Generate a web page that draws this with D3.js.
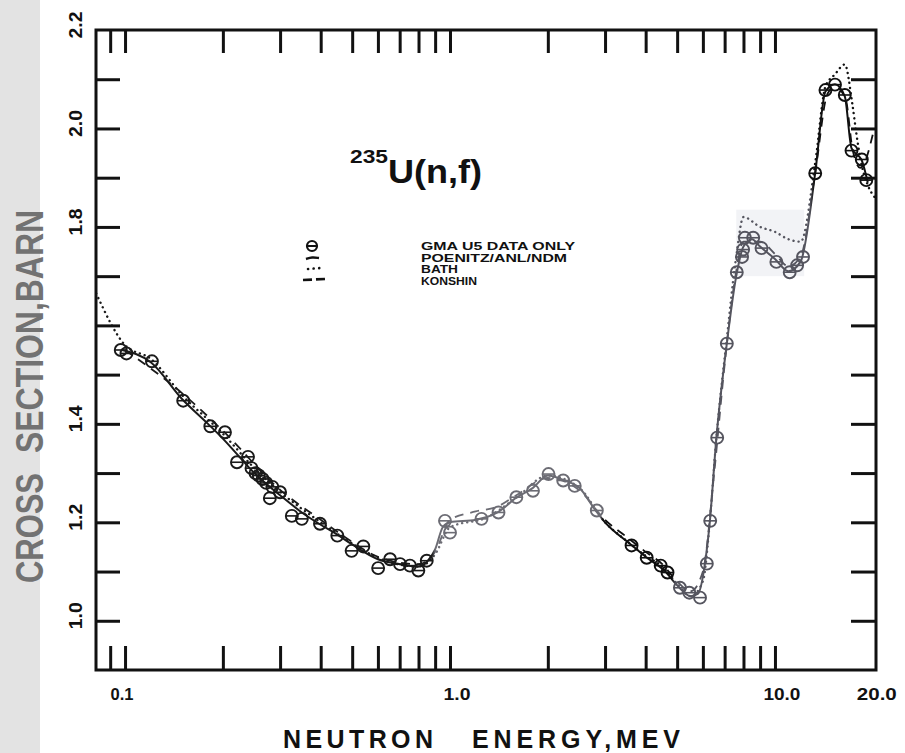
<!DOCTYPE html>
<html><head><meta charset="utf-8">
<script src="https://cdn.jsdelivr.net/npm/d3@7"></script>
<style>
html,body{margin:0;padding:0;background:#fff;}
svg{display:block;}
text{font-family:"Liberation Sans",Arial,sans-serif;font-weight:bold;}
</style></head>
<body>
<svg id="chart" width="905" height="753"></svg>
<script>
// ---------- data ----------
const xTickValues = [0.09,0.1,0.2,0.3,0.4,0.5,0.6,0.7,0.8,0.9,1,2,3,4,5,6,7,8,9,10];
const yTickValues = [1.0,1.1,1.2,1.3,1.4,1.5,1.6,1.7,1.8,1.9,2.0,2.1];
const xTickLabels = ["0.1","1.0","10.0","20.0"];
const xTickLabelValues = [0.1,1,10,20];
const yTickLabels = ["1.0","1.2","1.4","1.8","2.0","2.2"];
const yTickLabelValues = [1.0,1.2,1.4,1.8,2.0,2.2];

// GMA U5 data points
const gmaE = [0.097,0.101,0.121,0.151,0.183,0.203,0.221,0.239,0.245,0.252,0.258,0.265,0.272,0.279,0.284,0.300,0.326,0.350,0.398,0.450,0.498,0.541,0.601,0.654,0.702,0.753,0.799,0.848,
  0.965,1.0,1.25,1.41,1.60,1.80,2.01,2.23,2.42,2.83,
  3.62,4.03,4.45,4.67,
  5.10,5.45,5.88,6.17,6.32,6.64,7.11,7.63,7.92,7.98,8.08,8.57,9.09,10.1,11.1,11.7,12.2,13.3,
  14.3,15.3,16.4,17.2,18.5,19.1];
const gmaS = [1.550,1.543,1.527,1.447,1.395,1.383,1.322,1.333,1.310,1.300,1.295,1.288,1.280,1.249,1.272,1.261,1.213,1.207,1.197,1.173,1.142,1.151,1.107,1.125,1.115,1.112,1.102,1.122,
  1.203,1.179,1.207,1.220,1.251,1.264,1.298,1.285,1.274,1.224,
  1.153,1.128,1.112,1.098,
  1.067,1.057,1.047,1.116,1.203,1.372,1.563,1.708,1.739,1.754,1.778,1.778,1.757,1.729,1.708,1.722,1.739,1.909,
  2.078,2.089,2.068,1.955,1.937,1.895];

// POENITZ/ANL/NDM (solid)
const poenitzE = [0.098,0.12,0.15,0.18,0.2,0.22,0.25,0.3,0.35,0.4,0.45,0.5,0.6,0.7,0.8,0.85,0.9,0.95,1.0,1.2,1.4,1.6,1.8,2.0,2.25,2.5,2.8,3.0,3.6,4.0,4.6,5.0,5.5,5.8,6.1,6.3,6.6,7.1,7.6,8.0,8.5,9.0,10,11,12,13.3,14.3,15.3,16.4,17.2,18.5,19.3];
const poenitzS = [1.55,1.525,1.45,1.40,1.37,1.34,1.30,1.255,1.22,1.195,1.175,1.155,1.125,1.115,1.11,1.12,1.145,1.19,1.20,1.205,1.22,1.25,1.27,1.295,1.285,1.27,1.225,1.20,1.155,1.13,1.10,1.072,1.05,1.055,1.12,1.20,1.37,1.56,1.70,1.76,1.775,1.76,1.735,1.71,1.73,1.91,2.075,2.09,2.065,1.96,1.935,1.89];

// BATH (dotted)
const bathE = [0.0815,0.1,0.12,0.15,0.2,0.25,0.3,0.4,0.5,0.6,0.8,0.9,1.0,1.3,1.6,2.0,2.5,3.0,3.5,4.0,4.5,5.0,5.5,6.0,6.3,6.6,7.1,7.6,8.0,9.0,10,11,12,13.3,14.3,15.3,16.4,17.3,17.8,18.3,19.3,20.3];
const bathS = [1.665,1.56,1.532,1.458,1.38,1.31,1.262,1.20,1.157,1.128,1.11,1.135,1.19,1.21,1.25,1.295,1.27,1.20,1.162,1.132,1.11,1.075,1.05,1.08,1.20,1.37,1.57,1.74,1.82,1.80,1.79,1.775,1.77,1.93,2.085,2.11,2.13,2.05,1.99,1.94,1.885,1.86];

// KONSHIN (dashed)
const konshinE = [0.1,0.15,0.2,0.3,0.4,0.5,0.6,0.8,0.9,1.0,1.2,1.4,1.6,2.0,2.5,3.0,3.5,4.0,4.5,5.0,5.5,6.0,6.5,7.0,7.6,8.0,9.0,10,11,12,13.3,14.5,15.3,16.5,17.3,18.3,20.2];
const konshinS = [1.55,1.462,1.386,1.266,1.205,1.16,1.13,1.115,1.14,1.205,1.222,1.232,1.255,1.29,1.265,1.205,1.17,1.14,1.115,1.08,1.06,1.10,1.30,1.52,1.71,1.77,1.77,1.745,1.72,1.74,1.91,2.07,2.085,2.06,1.96,1.92,2.0];

// faint shaded region seen in the scan (energy / cross-section extents)
const shadeE = [7.6, 12.3];
const shadeS = [1.70, 1.835];

const legendLabels = ["GMA U5 DATA ONLY","POENITZ/ANL/NDM","BATH","KONSHIN"];

// ---------- layout ----------
const W = 905, H = 753;
const frame = {left:96, right:876, top:30, bottom:670};
const svg = d3.select("#chart");

const x = d3.scaleLog().domain([0.0814, 20.46]).range([frame.left, frame.right]);
const y = d3.scaleLinear().domain([0.9, 2.2]).range([frame.bottom, frame.top]);

// scan-like grey band on the far left
svg.append("rect").attr("x",0).attr("y",0).attr("width",40).attr("height",H).attr("fill","#e3e3e3");

// colour along energy (the scan has grey / black stretches)
const defs = svg.append("defs");
const grad = defs.append("linearGradient").attr("id","ink").attr("gradientUnits","userSpaceOnUse")
  .attr("x1",frame.left).attr("x2",frame.right).attr("y1",0).attr("y2",0);
const inkStops = [[0.0814,"#1a1a1a"],[0.88,"#1a1a1a"],[0.90,"#6c6c74"],[2.9,"#6c6c74"],[2.95,"#0e0e0e"],[4.8,"#0e0e0e"],[4.95,"#55555f"],[12.8,"#55555f"],[13.2,"#111"],[20.46,"#111"]];
inkStops.forEach(s=>{
  grad.append("stop").attr("offset",((x(s[0])-frame.left)/(frame.right-frame.left))).attr("stop-color",s[1]);
});

defs.append("clipPath").attr("id","clip").append("rect")
  .attr("x",frame.left).attr("y",frame.top).attr("width",frame.right-frame.left).attr("height",frame.bottom-frame.top);

// shaded region
svg.append("rect")
  .attr("x",x(shadeE[0])).attr("width",x(shadeE[1])-x(shadeE[0]))
  .attr("y",y(shadeS[1])).attr("height",y(shadeS[0])-y(shadeS[1]))
  .attr("fill","#f2f3f6");

// ---------- curves ----------
const plot = svg.append("g").attr("clip-path","url(#clip)");
const lineGen = d3.line().x(d=>x(d[0])).y(d=>y(d[1])).curve(d3.curveMonotoneX);
const zip = (a,b)=>a.map((v,i)=>[v,b[i]]);

plot.append("path").datum(zip(konshinE,konshinS)).attr("d",lineGen)
  .attr("fill","none").attr("stroke","url(#ink)").attr("stroke-width",1.8).attr("stroke-dasharray","9,7");
plot.append("path").datum(zip(bathE,bathS)).attr("d",lineGen)
  .attr("fill","none").attr("stroke","url(#ink)").attr("stroke-width",2.4)
  .attr("stroke-linecap","round").attr("stroke-dasharray","0.1,5");
plot.append("path").datum(zip(poenitzE,poenitzS)).attr("d",lineGen)
  .attr("fill","none").attr("stroke","url(#ink)").attr("stroke-width",2);

// ---------- data points (Θ) ----------
function inkAt(e){
  let c = inkStops[0][1];
  for(const s of inkStops){ if(e>=s[0]) c=s[1]; }
  return c;
}
const r = 6;
const pts = plot.selectAll("g.pt").data(zip(gmaE,gmaS)).join("g").attr("class","pt")
  .attr("transform",d=>`translate(${x(d[0])},${y(d[1])})`);
pts.append("circle").attr("r",r).attr("fill","none").attr("stroke",d=>inkAt(d[0])).attr("stroke-width",1.9);
pts.append("line").attr("x1",-r).attr("x2",r).attr("y1",0).attr("y2",0).attr("stroke",d=>inkAt(d[0])).attr("stroke-width",1.6);

// ---------- axes (ticks inside the frame) ----------
const tickStyle = g=>{
  g.select(".domain").remove();
  g.selectAll(".tick line").attr("stroke","#111").attr("stroke-width",3);
  g.selectAll(".tick text").remove();
};
svg.append("g").attr("transform",`translate(0,${frame.bottom})`)
  .call(d3.axisBottom(x).tickValues(xTickValues).tickSize(-24).tickFormat(""))
  .call(tickStyle);
svg.append("g").attr("transform",`translate(0,${frame.top})`)
  .call(d3.axisTop(x).tickValues(xTickValues).tickSize(-23).tickFormat(""))
  .call(tickStyle);
svg.append("g").attr("transform",`translate(${frame.left},0)`)
  .call(d3.axisLeft(y).tickValues(yTickValues).tickSize(-24).tickFormat(""))
  .call(tickStyle);
svg.append("g").attr("transform",`translate(${frame.right},0)`)
  .call(d3.axisRight(y).tickValues(yTickValues).tickSize(-25).tickFormat(""))
  .call(tickStyle);

// frame
svg.append("rect").attr("x",frame.left).attr("y",frame.top)
  .attr("width",frame.right-frame.left).attr("height",frame.bottom-frame.top)
  .attr("fill","none").attr("stroke","#111").attr("stroke-width",3);

// ---------- tick labels ----------
const xLabLen = {"0.1":23,"1.0":27,"10.0":37,"20.0":40};
svg.append("g").selectAll("text").data(xTickLabelValues).join("text")
  .attr("x",(d,i)=>x(d)+ (i===0?-3:(i===3?4:7)))
  .attr("y",700).attr("text-anchor","middle").attr("font-size",17).attr("fill","#111")
  .attr("textLength",(d,i)=>xLabLen[xTickLabels[i]]).attr("lengthAdjust","spacingAndGlyphs")
  .text((d,i)=>xTickLabels[i]);

svg.append("g").selectAll("text").data(yTickLabelValues).join("text")
  .attr("transform",d=>`translate(82,${y(d)-5}) rotate(-90)`)
  .attr("text-anchor","middle").attr("font-size",19).attr("fill","#111")
  .attr("textLength",27).attr("lengthAdjust","spacingAndGlyphs")
  .text((d,i)=>yTickLabels[i]);

// ---------- axis titles ----------
svg.append("text").attr("x",283).attr("y",748).attr("font-size",25).attr("fill","#111")
  .attr("textLength",150).attr("lengthAdjust","spacing").text("NEUTRON");
svg.append("text").attr("x",472).attr("y",748).attr("font-size",25).attr("fill","#111")
  .attr("textLength",208).attr("lengthAdjust","spacing").text("ENERGY,MEV");

svg.append("text").attr("transform","translate(43,583) rotate(-90)").attr("font-size",38).attr("fill","#727272")
  .attr("textLength",110).attr("lengthAdjust","spacingAndGlyphs").text("CROSS");
svg.append("text").attr("transform","translate(43,453) rotate(-90)").attr("font-size",38).attr("fill","#727272")
  .attr("textLength",243).attr("lengthAdjust","spacingAndGlyphs").text("SECTION,BARN");

// ---------- reaction label ----------
svg.append("text").attr("x",350).attr("y",163).attr("font-size",18).attr("fill","#111")
  .attr("textLength",38).attr("lengthAdjust","spacingAndGlyphs").text("235");
svg.append("text").attr("x",388).attr("y",183).attr("font-size",34).attr("fill","#111")
  .attr("textLength",94).attr("lengthAdjust","spacingAndGlyphs").text("U(n,f)");

// ---------- legend ----------
const legY = [250,261.5,273,284.5];
const legLen = [154,146,37,56];
const leg = svg.append("g");
leg.selectAll("text").data(legendLabels).join("text")
  .attr("x",421).attr("y",(d,i)=>legY[i]).attr("font-size",10).attr("fill","#111")
  .attr("textLength",(d,i)=>legLen[i]).attr("lengthAdjust","spacingAndGlyphs")
  .text(d=>d);
// symbols
leg.append("circle").attr("cx",312).attr("cy",246).attr("r",5).attr("fill","none").attr("stroke","#111").attr("stroke-width",2.2);
leg.append("line").attr("x1",307).attr("x2",317).attr("y1",246).attr("y2",246).attr("stroke","#111").attr("stroke-width",2);
leg.append("path").attr("d",d3.line().curve(d3.curveBasis)([[306,259],[312,257],[319,258]])).attr("fill","none").attr("stroke","#111").attr("stroke-width",2.4);
leg.append("line").attr("x1",308).attr("x2",321).attr("y1",269).attr("y2",268).attr("stroke","#111").attr("stroke-width",2.6)
  .attr("stroke-linecap","round").attr("stroke-dasharray","0.1,5.5");
leg.append("line").attr("x1",303).attr("x2",325).attr("y1",280).attr("y2",279).attr("stroke","#111").attr("stroke-width",2.6)
  .attr("stroke-dasharray","9,4");
</script>
</body></html>
